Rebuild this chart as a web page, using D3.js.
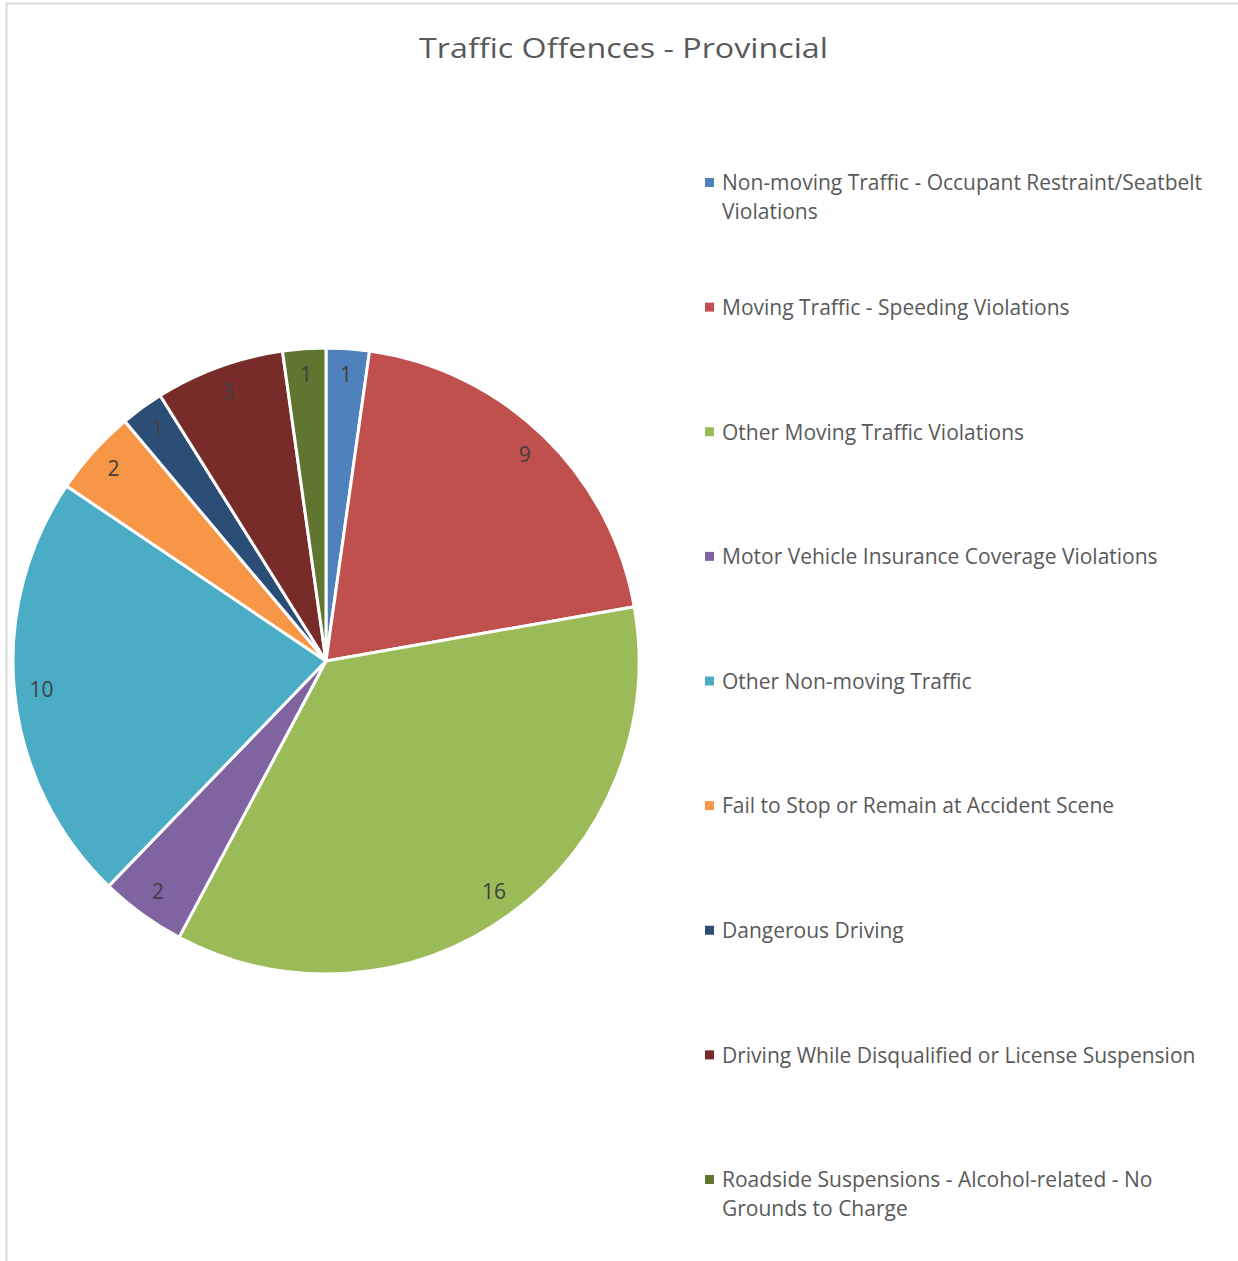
<!DOCTYPE html>
<html><head><meta charset="utf-8">
<script src="https://cdn.jsdelivr.net/npm/d3@7/dist/d3.min.js"></script>
<style>body{margin:0;background:#fff;} svg{display:block;}</style>
</head><body>
<script>
const categories = [
  "Non-moving Traffic - Occupant Restraint/Seatbelt Violations",
  "Moving Traffic - Speeding Violations",
  "Other Moving Traffic Violations",
  "Motor Vehicle Insurance Coverage Violations",
  "Other Non-moving Traffic",
  "Fail to Stop or Remain at Accident Scene",
  "Dangerous Driving",
  "Driving While Disqualified or License Suspension",
  "Roadside Suspensions - Alcohol-related - No Grounds to Charge"
];
const legendLines = [
  ["Non-moving Traffic - Occupant Restraint/Seatbelt", "Violations"],
  ["Moving Traffic - Speeding Violations"],
  ["Other Moving Traffic Violations"],
  ["Motor Vehicle Insurance Coverage Violations"],
  ["Other Non-moving Traffic"],
  ["Fail to Stop or Remain at Accident Scene"],
  ["Dangerous Driving"],
  ["Driving While Disqualified or License Suspension"],
  ["Roadside Suspensions - Alcohol-related - No", "Grounds to Charge"]
];
const values = [1, 9, 16, 2, 10, 2, 1, 3, 1];
const colors = ["#4F81BD","#C0504D","#9BBB59","#8064A2","#4BACC6","#F79646","#2C4D75","#772C2A","#5F7530"];
const title = "Traffic Offences - Provincial";

const W = 1238, H = 1261;
const font = "'Open Sans', 'Noto Sans', sans-serif";
const svg = d3.select("body").append("svg").attr("width", W).attr("height", H);

svg.append("rect").attr("x", 6.5).attr("y", 3.5).attr("width", W + 10).attr("height", H + 10)
  .attr("fill", "#fff").attr("stroke", "#d9d9d9").attr("stroke-width", 2);

const tg = svg.append("g");
const tt = tg.append("text").attr("x", 0).attr("y", 0).attr("text-anchor", "middle")
  .attr("font-family", font).attr("font-size", 27).attr("fill", "#595959").text(title);
const tw = tt.node().getComputedTextLength() || 409;
tg.attr("transform", `translate(623.5,58) scale(${409 / tw},1)`);

const data = categories.map((c, i) => ({c, v: values[i], col: colors[i]}));
const pie = d3.pie().sort(null).value(d => d.v);
const R = 313;
const arc = d3.arc().innerRadius(0).outerRadius(R);
const labelArc = d3.arc().innerRadius(286).outerRadius(286);
const g = svg.append("g").attr("transform", "translate(326,661)");
const arcs = pie(data);
g.selectAll("path").data(arcs).join("path")
  .attr("d", arc).attr("fill", d => d.data.col)
  .attr("stroke", "#fff").attr("stroke-width", 3).attr("stroke-linejoin", "round");
g.selectAll("text").data(arcs).join("text")
  .attr("transform", d => `translate(${labelArc.centroid(d)})`)
  .attr("text-anchor", "middle").attr("dy", "0.3em")
  .attr("font-family", font).attr("font-size", 21).attr("fill", "#404040")
  .text(d => d.data.v);

const ly = d3.scalePoint().domain(d3.range(categories.length)).range([183, 1180]);
const lg = svg.append("g");
categories.forEach((c, i) => {
  const y = ly(i);
  lg.append("rect").attr("x", 705).attr("y", y - 5).attr("width", 9).attr("height", 9).attr("fill", colors[i]);
  const t = lg.append("text").attr("x", 722).attr("y", y)
    .attr("font-family", font).attr("font-size", 21).attr("fill", "#595959");
  legendLines[i].forEach((ln, k) => {
    t.append("tspan").attr("x", 722).attr("dy", k === 0 ? "0.35em" : 29).text(ln);
  });
});
</script>
</body></html>
